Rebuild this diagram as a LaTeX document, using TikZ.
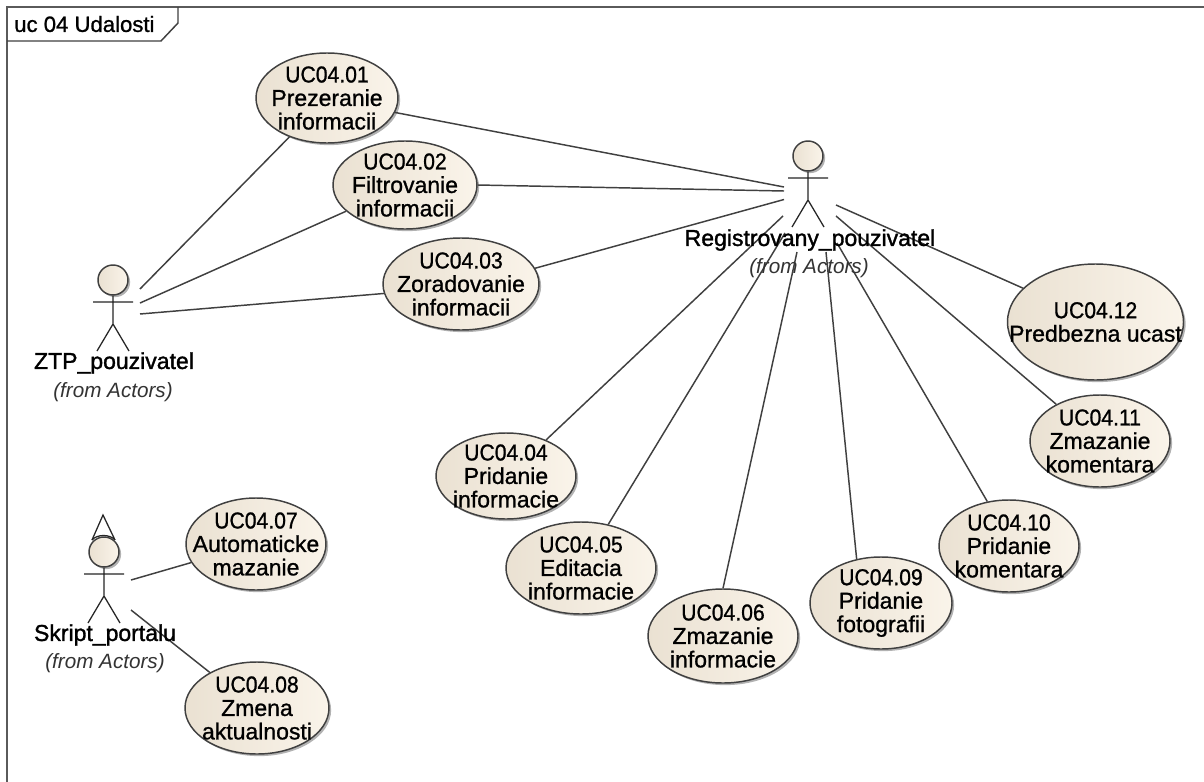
\documentclass[tikz,border=0pt]{standalone}
\usepackage{fontspec}
\usepackage{graphicx}
\setmainfont{Liberation Sans}
\newfontfamily\medfont[FakeBold=1.0]{Liberation Sans}
\newfontfamily\namefont[FakeBold=1.4]{Liberation Sans}
\usetikzlibrary{shapes.geometric,shadows}
\definecolor{lineC}{HTML}{404040}
\definecolor{frameC}{HTML}{5A5A5A}
\definecolor{ucL}{HTML}{EAE1D2}
\definecolor{ucR}{HTML}{FAF4EA}
\tikzset{
  usecase/.style={ellipse,draw=lineC,line width=1.1pt,inner sep=0pt,left color=ucL,right color=ucR,
    drop shadow={shadow xshift=1.6pt,shadow yshift=-1.6pt,fill=black,opacity=.3}},
  uctext/.style={font=\medfont\fontsize{17.25}{17.6}\selectfont,align=center,inner sep=0pt,text=black},
  assoc/.style={draw=lineC,line width=1.1pt},
  limb/.style={draw=black!85,line width=0.95pt},
  head/.style={circle,draw=lineC,line width=1.1pt,inner sep=0pt,minimum size=22.5pt,left color=ucL,right color=ucR,
    drop shadow={shadow xshift=1.6pt,shadow yshift=-1.6pt,fill=black,opacity=.3}},
  actorname/.style={font=\namefont\fontsize{17.25}{20}\selectfont,inner sep=0pt,text=black},
  fromlabel/.style={font=\itshape\fontsize{15.5}{18}\selectfont,inner sep=0pt,text=black!80},
  title/.style={font=\medfont\fontsize{16.6}{20}\selectfont,inner sep=0pt,anchor=west,text=black}
}
\newcommand{\ucid}[1]{\scalebox{.92}[1]{#1}}
\newcommand{\ucnode}[6]{%
  \node[usecase,minimum width=#4*1.5pt,minimum height=#5*1.5pt] (#1) at (#2,#3) {};
  \node[uctext] (#1t) at (#2,#3) {#6};
}
\newcommand{\actorfig}[4]{% name, x head, y head, extra
  \node[head] (#1) at (#2,#3) {};
  \coordinate (#1la) at (#2-20,#3+22);
  \coordinate (#1ra) at (#2+20,#3+22);
  \coordinate (#1h) at (#2,#3+44);
  \coordinate (#1ll) at (#2-16,#3+71);
  \coordinate (#1rl) at (#2+16,#3+71);
  \draw[limb] (#1) -- (#1h) (#1la) -- (#1ra) (#1ll) -- (#1h) -- (#1rl);
}
\begin{document}
\begin{tikzpicture}[x=0.75pt,y=-0.75pt]
\useasboundingbox (0,0) rectangle (1204,782);
\fill[white] (0,0) rectangle (1204,782);
% frame
\coordinate (fBL) at (7,782);
\coordinate (fTL) at (7,7);
\coordinate (fTR) at (1204,7);
\draw[frameC,line width=1.5pt] (fBL) -- (fTL) -- (fTR);
\coordinate (tabA) at (7,41);
\coordinate (tabB) at (161,41);
\coordinate (tabC) at (178,23);
\coordinate (tabD) at (178,7);
\draw[lineC,line width=1.1pt] (tabA) -- (tabB) -- (tabC) -- (tabD);
\node[title] (frameTitle) at (14,24) {uc 04 Udalosti};
% use cases
\ucnode{u01}{327}{98}{71}{45}{\ucid{UC04.01}\\Prezeranie\\informacii}
\ucnode{u02}{405}{185}{72}{44}{\ucid{UC04.02}\\Filtrovanie\\informacii}
\ucnode{u03}{461}{284}{78}{46}{\ucid{UC04.03}\\Zoradovanie\\informacii}
\ucnode{u04}{506}{476}{70}{43}{\ucid{UC04.04}\\Pridanie\\informacie}
\ucnode{u05}{581}{568}{75}{46}{\ucid{UC04.05}\\Editacia\\informacie}
\ucnode{u06}{723}{636}{75}{47}{\ucid{UC04.06}\\Zmazanie\\informacie}
\ucnode{u07}{256}{544}{70}{46}{\ucid{UC04.07}\\Automaticke\\mazanie}
\ucnode{u08}{257}{708}{72}{46}{\ucid{UC04.08}\\Zmena\\aktualnosti}
\ucnode{u09}{881}{603}{71}{46}{\ucid{UC04.09}\\Pridanie\\fotografii}
\ucnode{u10}{1009}{546}{70}{46}{\ucid{UC04.10}\\Pridanie\\komentara}
\ucnode{u11}{1100}{441}{70}{46}{\ucid{UC04.11}\\Zmazanie\\komentara}
\ucnode{u12}{1095.5}{322}{88}{58}{\ucid{UC04.12}\\Predbezna ucast}
% actors
\coordinate (apex) at (103,515);
\coordinate (triL) at (92,540);
\coordinate (triR) at (115,540);
\draw[limb] (triL) -- (apex) -- (triR);
\draw[limb] (triL) .. controls (97,534) and (110,534) .. (triR);
\actorfig{ztp}{113}{280}{}
\actorfig{reg}{808}{156}{}
\actorfig{skr}{104}{552}{}
% connector ends at the actors
\coordinate (z1) at (140,289);
\coordinate (z2) at (140,303);
\coordinate (z3) at (140,314);
\coordinate (r1) at (784,187);
\coordinate (r2) at (784,191);
\coordinate (r3) at (784,199.5);
\coordinate (r4) at (783,216);
\coordinate (r5) at (785,233);
\coordinate (r6) at (797,252);
\coordinate (r9) at (826,252);
\coordinate (r10) at (837,243);
\coordinate (r11) at (836,216);
\coordinate (r12) at (836,205);
\coordinate (s7) at (131,580);
\coordinate (s8) at (131,610);
\draw[assoc] (z1) -- (u01.226);
\draw[assoc] (z2) -- (u02.204);
\draw[assoc] (z3) -- (u03.187.5);
\draw[assoc] (r1) -- (u01.348);
\draw[assoc] (r2) -- (u02.0);
\draw[assoc] (r3) -- (u03.12.8);
\draw[assoc] (r4) -- (u04.42.6);
\draw[assoc] (r5) -- (u05.58.3);
\draw[assoc] (r6) -- (u06.90);
\draw[assoc] (r9) -- (u09.119.5);
\draw[assoc] (r10) -- (u10.116.2);
\draw[assoc] (r11) -- (u11.140.2);
\draw[assoc] (r12) -- (u12.155.7);
\draw[assoc] (s7) -- (u07.196.2);
\draw[assoc] (s8) -- (u08.143.3);
% actor labels
\node[actorname] (ztpName) at (114,363) {ZTP\_pouzivatel};
\node[fromlabel] (ztpFrom) at (113,392) {(from Actors)};
\node[actorname] (regName) at (810,240) {Registrovany\_pouzivatel};
\node[fromlabel] (regFrom) at (809,268) {(from Actors)};
\node[actorname] (skrName) at (105,635) {Skript\_portalu};
\node[fromlabel] (skrFrom) at (105,663) {(from Actors)};
\end{tikzpicture}
\end{document}
